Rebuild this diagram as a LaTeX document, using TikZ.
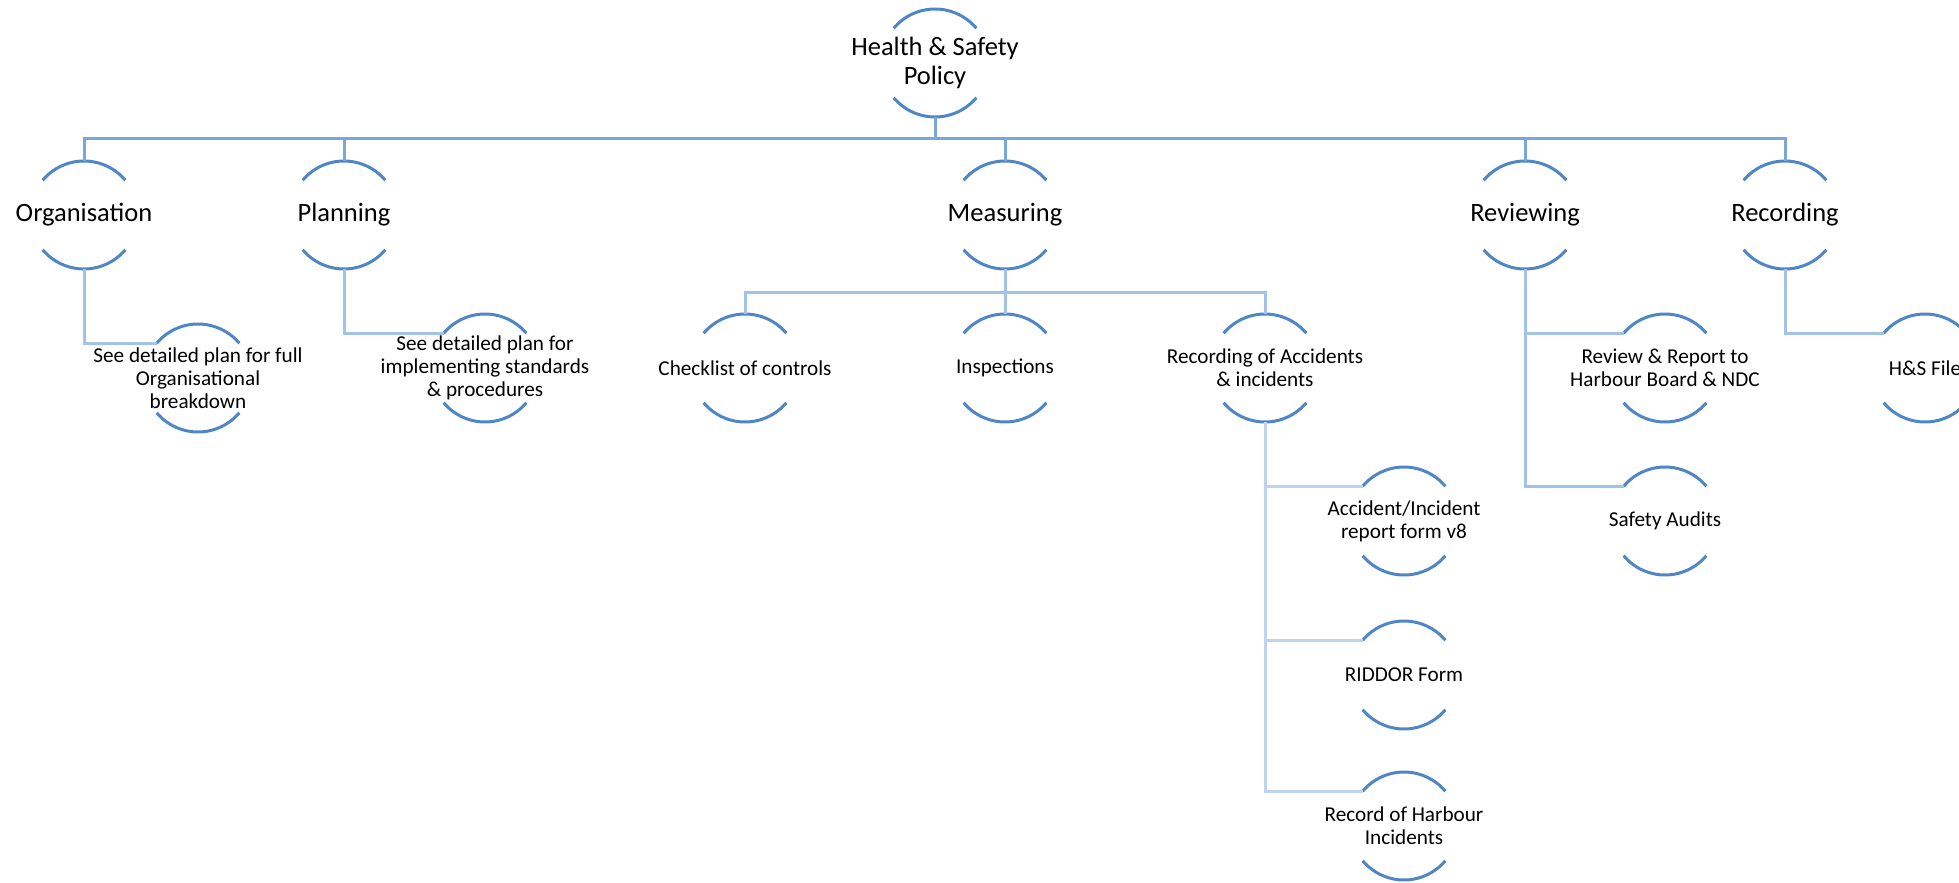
\documentclass[tikz,border=0pt]{standalone}
\usepackage{fontspec}
\setmainfont{Carlito}
\usetikzlibrary{calc}
\definecolor{arcc}{RGB}{79,134,198}
\definecolor{lonec}{RGB}{122,167,216}
\definecolor{ltwoc}{RGB}{163,194,232}
\definecolor{lthreec}{RGB}{190,211,238}
\tikzset{
  base/.style={rectangle, minimum width=108pt, minimum height=108pt, inner sep=0pt, align=center, text=black},
  big/.style={base, font=\fontsize{26.5}{29}\selectfont},
  small/.style={base, font=\fontsize{21.2}{23}\selectfont},
  arcline/.style={draw=arcc, line width=3pt},
  conone/.style={draw=lonec, line width=3pt},
  contwo/.style={draw=ltwoc, line width=3pt},
  conthree/.style={draw=lthreec, line width=3pt},
}
\begin{document}
\begin{tikzpicture}[x=1pt,y=1pt]
\useasboundingbox (0,0) rectangle (1959,-883);
\clip (0,0) rectangle (1959,-883);
% level 0
\node[big] (top) at (935,-63) {Health \& Safety\\Policy};
% level 1
\node[big] (org) at (84,-215) {Organisation};
\node[big] (pla) at (344,-215) {Planning};
\node[big] (mea) at (1005,-215) {Measuring};
\node[big] (rev) at (1525,-215) {Reviewing};
\node[big] (rec) at (1785,-215) {Recording};
% level 2
\node[small] (orgc) at (198,-378) {See detailed plan for full\\Organisational\\breakdown};
\node[small] (plac) at (485,-368) {See detailed plan for\\implementing standards\\\& procedures};
\node[small] (chk) at (745,-368) {Checklist of controls};
\node[small] (ins) at (1005,-368) {Inspections};
\node[small] (rac) at (1265,-368) {Recording of Accidents\\\& incidents};
\node[small] (rr) at (1665,-368) {Review \& Report to\\Harbour Board \& NDC};
\node[small] (hs) at (1925,-368) {H\&S File};
% level 3
\node[small] (acc) at (1404,-521) {Accident/Incident\\report form v8};
\node[small] (rid) at (1404,-675) {RIDDOR Form};
\node[small] (rhi) at (1404,-826) {Record of Harbour\\Incidents};
\node[small] (sa) at (1665,-521) {Safety Audits};
% arcs
\foreach \n in {top,org,pla,mea,rev,rec,orgc,plac,chk,ins,rac,rr,hs,acc,rid,rhi,sa}{
  \draw[arcline] ($(\n.center)+(140:54pt)$) arc[start angle=140, end angle=40, radius=54pt];
  \draw[arcline] ($(\n.center)+(220:54pt)$) arc[start angle=220, end angle=320, radius=54pt];
  \coordinate (\n-l) at ($(\n.center)+(140:54pt)$);
}
% connectors level 0 -> 1
\coordinate (busone) at (0,-138);
\draw[conone] (top.south) -- (top.south |- busone);
\draw[conone] (org.north) |- (rec.north |- busone) -- (rec.north);
\draw[conone] (pla.north) -- (pla.north |- busone);
\draw[conone] (mea.north) -- (mea.north |- busone);
\draw[conone] (rev.north) -- (rev.north |- busone);
% level 1 -> 2
\coordinate (bustwo) at (0,-292);
\draw[contwo] (org.south) |- (orgc-l);
\draw[contwo] (pla.south) |- (plac-l);
\draw[contwo] (mea.south) -- (mea.south |- bustwo);
\draw[contwo] (chk.north) |- (rac.north |- bustwo) -- (rac.north);
\draw[contwo] (ins.north) -- (ins.north |- bustwo);
\draw[contwo] (rev.south) |- (rr-l);
\draw[contwo] (rev.south) |- (sa-l);
\draw[contwo] (rec.south) |- (hs-l);
% level 2 -> 3
\draw[conthree] (rac.south) |- (acc-l);
\draw[conthree] (rac.south) |- (rid-l);
\draw[conthree] (rac.south) |- (rhi-l);
\end{tikzpicture}
\end{document}
